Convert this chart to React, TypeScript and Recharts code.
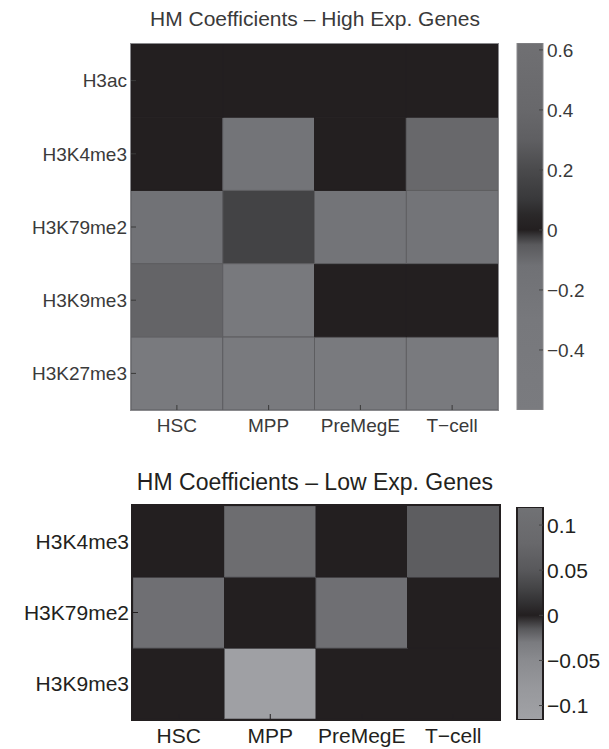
import React from "react"
import { BarChart, Bar, Cell, XAxis, YAxis } from "recharts"

const cellTypes = ["HSC", "MPP", "PreMegE", "T\u2212cell"]

// high expression panel (rows top -> bottom)
const highMarks = ["H3ac", "H3K4me3", "H3K79me2", "H3K9me3", "H3K27me3"]
const highValues = [
  [0, 0, 0, 0],
  [0, -0.2, 0, 0.4],
  [-0.15, 0.16, -0.2, -0.2],
  [0.35, -0.35, 0, 0],
  [-0.45, -0.45, -0.45, -0.45],
]
const highTicks = [0.6, 0.4, 0.2, 0, -0.2, -0.4]
const highRange: [number, number] = [-0.6, 0.623]

// low expression panel
const lowMarks = ["H3K4me3", "H3K79me2", "H3K9me3"]
const lowValues = [
  [0, 0.1, 0, 0.06],
  [-0.025, 0, -0.025, 0],
  [0, -0.11, 0, 0],
]
const lowTicks = [0.1, 0.05, 0, -0.05, -0.1]
const lowRange: [number, number] = [-0.116, 0.12]

// gray colormaps, black around zero
const highStops: [number, string][] = [
  [-0.6, "#7a7b7f"], [-0.3, "#77787c"], [-0.12, "#707175"], [-0.05, "#5a5a5d"],
  [-0.02, "#3a393b"], [0, "#231f20"], [0.05, "#2a2829"], [0.1, "#38383a"],
  [0.2, "#4a4a4c"], [0.3, "#5f5f62"], [0.4, "#68686b"], [0.623, "#707073"],
]
const lowStops: [number, string][] = [
  [-0.116, "#a1a2a6"], [-0.08, "#97989c"], [-0.05, "#8a8b8f"], [-0.03, "#7a7b7f"],
  [-0.015, "#58585b"], [0, "#231f20"], [0.015, "#333234"], [0.03, "#444446"],
  [0.05, "#58585b"], [0.08, "#68686b"], [0.12, "#717275"],
]

const FONT = "'Liberation Sans', Arial, sans-serif"

function hexToRgb(h: string) {
  return [1, 3, 5].map((i) => parseInt(h.slice(i, i + 2), 16))
}

function colorFor(v: number, stops: [number, string][]) {
  if (v <= stops[0][0]) return stops[0][1]
  for (let i = 1; i < stops.length; i++) {
    if (v <= stops[i][0]) {
      const [v0, c0] = stops[i - 1]
      const [v1, c1] = stops[i]
      const t = (v - v0) / (v1 - v0)
      const a = hexToRgb(c0), b = hexToRgb(c1)
      const rgb = a.map((x, k) => Math.round(x + (b[k] - x) * t))
      return `rgb(${rgb.join(",")})`
    }
  }
  return stops[stops.length - 1][1]
}

const fmt = (v: number) => (v < 0 ? "\u2212" + String(-v) : String(v))

type HeatProps = {
  marks: string[]
  values: number[][]
  stops: [number, string][]
  height: number
  marginTop: number
  plotHeight: number
  yAxisWidth: number
  rightMargin: number
  fontSize: number
  textColor: string
  border: string
  borderWidth: number
}

function Heatmap(p: HeatProps) {
  const n = p.marks.length
  const data = cellTypes.map((c) => {
    const row: any = { cell: c }
    p.marks.forEach((m) => (row[m] = 1))
    return row
  })
  const bottomUp = [...p.marks].reverse()
  const ticks = p.marks.map((_, i) => i + 0.5)
  const plotW = 520 - p.yAxisWidth - p.rightMargin
  return (
    <div style={{ position: "relative", width: 520, height: p.height }}>
      <BarChart
        width={520}
        height={p.height}
        data={data}
        barCategoryGap={0}
        barGap={0}
        margin={{ top: p.marginTop, right: p.rightMargin, left: 0, bottom: p.height - p.marginTop - p.plotHeight - 30 }}
      >
        <XAxis
          dataKey="cell"
          height={30}
          axisLine={false}
          tickSize={-5}
          tickMargin={14}
          tickLine={{ stroke: p.textColor }}
          tick={{ fill: p.textColor, fontSize: p.fontSize, fontFamily: FONT }}
        />
        <YAxis
          type="number"
          domain={[0, n]}
          ticks={ticks}
          width={p.yAxisWidth}
          axisLine={false}
          tickSize={-5}
          tickMargin={9}
          tickLine={{ stroke: p.textColor }}
          tickFormatter={(v: number) => p.marks[n - 1 - Math.floor(v)]}
          tick={{ fill: p.textColor, fontSize: p.fontSize, fontFamily: FONT }}
        />
        {bottomUp.map((m) => {
          const r = p.marks.indexOf(m)
          return (
            <Bar key={m} dataKey={m} stackId="s" isAnimationActive={false}>
              {data.map((d, ci) => {
                const col = colorFor(p.values[r][ci], p.stops)
                return <Cell key={ci} fill={col} stroke={p.values[r][ci] === 0 ? col : "#5d5d60"} strokeWidth={1} />
              })}
            </Bar>
          )
        })}
      </BarChart>
      <div
        style={{
          position: "absolute",
          left: p.yAxisWidth - p.borderWidth / 2,
          top: p.marginTop - p.borderWidth / 2,
          width: plotW,
          height: p.plotHeight,
          border: `${p.borderWidth}px solid ${p.border}`,
          boxSizing: "content-box",
          marginLeft: -p.borderWidth / 2,
          marginTop: -p.borderWidth / 2,
          pointerEvents: "none",
        }}
      />
    </div>
  )
}

type BarProps = {
  id: string
  range: [number, number]
  ticks: number[]
  stops: [number, string][]
  height: number
  marginTop: number
  plotHeight: number
  fontSize: number
  textColor: string
  border: string
  borderWidth: number
}

function ColorBar(p: BarProps) {
  const [lo, hi] = p.range
  const data = [{ k: "cb", v: [lo, hi] }]
  return (
    <BarChart
      width={109}
      height={p.height}
      data={data}
      barCategoryGap={0}
      margin={{ top: p.marginTop, right: 0, left: 17, bottom: p.height - p.marginTop - p.plotHeight }}
    >
      <defs>
        <linearGradient id={p.id} x1="0" y1="0" x2="0" y2="1">
          {[...p.stops].reverse().map(([v, c], i) => (
            <stop key={i} offset={(hi - v) / (hi - lo)} stopColor={c} />
          ))}
        </linearGradient>
      </defs>
      <XAxis dataKey="k" hide />
      <YAxis
        type="number"
        orientation="right"
        domain={[lo, hi]}
        ticks={p.ticks}
        allowDataOverflow
        width={66}
        axisLine={false}
        tickSize={-4}
        tickMargin={8}
        tickLine={{ stroke: "#444" }}
        tickFormatter={fmt}
        tick={{ fill: p.textColor, fontSize: p.fontSize, fontFamily: FONT, textAnchor: "start" }}
      />
      <Bar
        dataKey="v"
        fill={`url(#${p.id})`}
        stroke={p.border}
        strokeWidth={p.borderWidth}
        isAnimationActive={false}
      />
    </BarChart>
  )
}

export default function App() {
  return (
    <div style={{ position: "absolute", left: 0, top: 0, width: 609, height: 749, background: "#fff", fontFamily: FONT }}>
      <div style={{ position: "absolute", left: 0, top: 7, width: 630, textAlign: "center", fontSize: 21, color: "#3a3a3a" }}>
        HM Coefficients {"\u2013"} High Exp. Genes
      </div>
      <div style={{ position: "absolute", left: 0, top: 0 }}>
        <Heatmap
          marks={highMarks}
          values={highValues}
          stops={highStops}
          height={450}
          marginTop={44}
          plotHeight={366}
          yAxisWidth={131}
          rightMargin={22}
          fontSize={19}
          textColor="#3a3a3a"
          border="#8a8a8d"
          borderWidth={1}
        />
      </div>
      <div style={{ position: "absolute", left: 500, top: 0 }}>
        <ColorBar
          id="gHigh"
          range={highRange}
          ticks={highTicks}
          stops={highStops}
          height={450}
          marginTop={43}
          plotHeight={367}
          fontSize={19}
          textColor="#3a3a3a"
          border="#8a8a8d"
          borderWidth={1}
        />
      </div>

      <div style={{ position: "absolute", left: 0, top: 469, width: 630, textAlign: "center", fontSize: 23, color: "#231f20" }}>
        HM Coefficients {"\u2013"} Low Exp. Genes
      </div>
      <div style={{ position: "absolute", left: 0, top: 462 }}>
        <Heatmap
          marks={lowMarks}
          values={lowValues}
          stops={lowStops}
          height={297}
          marginTop={44}
          plotHeight={213}
          yAxisWidth={133}
          rightMargin={21}
          fontSize={21}
          textColor="#231f20"
          border="#231f20"
          borderWidth={2}
        />
      </div>
      <div style={{ position: "absolute", left: 500, top: 462 }}>
        <ColorBar
          id="gLow"
          range={lowRange}
          ticks={lowTicks}
          stops={lowStops}
          height={297}
          marginTop={45}
          plotHeight={213}
          fontSize={21}
          textColor="#231f20"
          border="#231f20"
          borderWidth={2}
        />
      </div>
    </div>
  )
}
